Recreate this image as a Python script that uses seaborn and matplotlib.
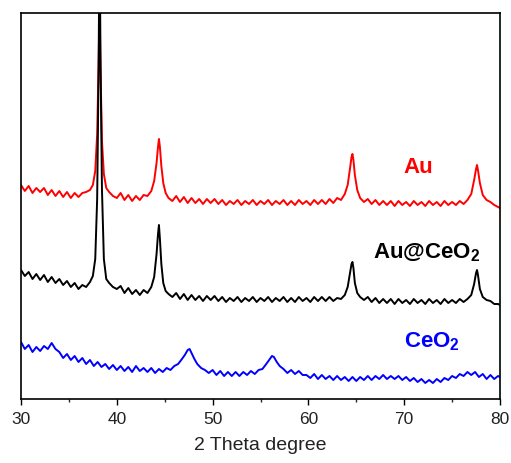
import matplotlib
matplotlib.use("Agg")
import matplotlib.pyplot as plt
import seaborn as sns
import pandas as pd

sns.set_theme(style="white")
plt.rcParams['font.family'] = ['Liberation Sans', 'DejaVu Sans']
plt.rcParams['mathtext.fontset'] = 'custom'
plt.rcParams['mathtext.rm'] = 'Liberation Sans'
plt.rcParams['mathtext.bf'] = 'Liberation Sans:bold'

# ---- data (2 theta in degrees, intensity in arbitrary offset units) ----
au_two_theta = [30.0, 30.4, 30.8, 31.2, 31.6, 32.0, 32.4, 32.8, 33.2, 33.6, 34.0, 34.4, 34.8, 35.2, 35.6,
                36.0, 36.4, 36.8, 37.2, 37.5, 37.75, 37.95, 38.1, 38.2, 38.3, 38.45, 38.65, 38.9, 39.2, 39.6,
                40.0, 40.4, 40.8, 41.2, 41.6, 42.0, 42.4, 42.8, 43.2, 43.6, 43.9, 44.15, 44.3, 44.4, 44.5,
                44.65, 44.85, 45.1, 45.4, 45.8, 46.2, 46.6, 47.0, 47.4, 47.8, 48.2, 48.6, 49.0, 49.4, 49.8,
                50.2, 50.6, 51.0, 51.4, 51.8, 52.2, 52.6, 53.0, 53.4, 53.8, 54.2, 54.6, 55.0, 55.4, 55.8,
                56.2, 56.6, 57.0, 57.4, 57.8, 58.2, 58.6, 59.0, 59.4, 59.8, 60.2, 60.6, 61.0, 61.4, 61.8,
                62.2, 62.6, 63.0, 63.4, 63.8, 64.1, 64.35, 64.5, 64.6, 64.7, 64.85, 65.1, 65.4, 65.8, 66.2,
                66.6, 67.0, 67.4, 67.8, 68.2, 68.6, 69.0, 69.4, 69.8, 70.2, 70.6, 71.0, 71.4, 71.8, 72.2,
                72.6, 73.0, 73.4, 73.8, 74.2, 74.6, 75.0, 75.4, 75.8, 76.2, 76.6, 77.0, 77.3, 77.5, 77.6,
                77.7, 77.9, 78.2, 78.6, 79.0, 79.4, 79.8, 80.0]

au_intensity = [214, 208, 213, 206, 211, 207, 211, 204, 209, 203, 208, 202, 207, 201, 206,
                202, 206, 207, 209, 214, 228, 265, 335, 392, 330, 258, 225, 211, 207, 203,
                201, 206, 199, 204, 198, 203, 199, 204, 203, 208, 218, 236, 252, 260, 252,
                233, 216, 206, 201, 198, 203, 197, 202, 196, 201, 196, 200, 195, 200, 196,
                200, 195, 199, 194, 198, 195, 199, 194, 198, 195, 199, 194, 198, 195, 199,
                194, 198, 195, 199, 194, 198, 194, 199, 195, 198, 194, 199, 195, 199, 195,
                200, 196, 201, 199, 205, 214, 231, 242, 245, 239, 224, 209, 201, 197, 200,
                195, 199, 194, 198, 194, 198, 193, 198, 194, 197, 193, 198, 194, 197, 193,
                198, 194, 197, 193, 198, 194, 197, 194, 198, 195, 199, 205, 219, 230, 234,
                229, 216, 204, 199, 197, 194, 192, 191]

au_ceo2_intensity = [129, 123, 127, 120, 125, 119, 124, 117, 122, 116, 120, 114, 118, 112, 116,
                     110, 114, 112, 117, 123, 140, 200, 330, 470, 340, 210, 140, 120, 116, 112,
                     110, 113, 106, 111, 105, 109, 104, 109, 106, 112, 122, 145, 165, 174, 160,
                     135, 116, 108, 105, 102, 106, 100, 105, 99, 104, 99, 103, 98, 103, 99,
                     103, 98, 102, 97, 101, 98, 102, 97, 101, 98, 102, 97, 101, 98, 102,
                     97, 101, 98, 102, 97, 101, 97, 102, 98, 101, 97, 102, 98, 102, 98,
                     102, 98, 101, 100, 104, 112, 126, 135, 137, 131, 116, 106, 102, 99, 102,
                     97, 101, 96, 100, 96, 100, 95, 100, 96, 99, 95, 100, 96, 99, 95,
                     100, 96, 99, 95, 100, 96, 99, 96, 100, 97, 100, 104, 115, 126, 129,
                     124, 110, 102, 99, 98, 95, 95, 94]

ceo2_two_theta = [30.0, 30.4, 30.8, 31.2, 31.6, 32.0, 32.4, 32.8, 33.2, 33.6, 34.0, 34.4, 34.8, 35.2, 35.6,
                  36.0, 36.4, 36.8, 37.2, 37.6, 38.0, 38.4, 38.8, 39.2, 39.6, 40.0, 40.4, 40.8, 41.2, 41.6,
                  42.0, 42.4, 42.8, 43.2, 43.6, 44.0, 44.4, 44.8, 45.2, 45.6, 46.0, 46.4, 46.8, 47.1, 47.4,
                  47.6, 47.8, 48.1, 48.4, 48.8, 49.2, 49.6, 50.0, 50.4, 50.8, 51.2, 51.6, 52.0, 52.4, 52.8,
                  53.2, 53.6, 54.0, 54.4, 54.8, 55.2, 55.6, 55.9, 56.2, 56.4, 56.7, 57.0, 57.4, 57.8, 58.2,
                  58.6, 59.0, 59.4, 59.8, 60.2, 60.6, 61.0, 61.4, 61.8, 62.2, 62.6, 63.0, 63.4, 63.8, 64.2,
                  64.6, 65.0, 65.4, 65.8, 66.2, 66.6, 67.0, 67.4, 67.8, 68.2, 68.6, 69.0, 69.4, 69.8, 70.2,
                  70.6, 71.0, 71.4, 71.8, 72.2, 72.6, 73.0, 73.4, 73.8, 74.2, 74.6, 75.0, 75.4, 75.8, 76.2,
                  76.6, 77.0, 77.4, 77.8, 78.2, 78.6, 79.0, 79.4, 79.8, 80.0]

ceo2_intensity = [57, 50, 54, 47, 52, 48, 53, 50, 56, 50, 47, 41, 45, 39, 43,
                  37, 41, 35, 39, 33, 37, 32, 35, 30, 34, 29, 33, 28, 32, 27,
                  33, 28, 31, 27, 31, 26, 30, 27, 31, 29, 33, 35, 40, 44, 49,
                  50, 46, 40, 35, 31, 29, 26, 29, 24, 28, 23, 27, 23, 27, 23,
                  27, 24, 28, 25, 29, 30, 35, 39, 43, 42, 37, 33, 30, 26, 29,
                  25, 28, 24, 24, 21, 25, 20, 24, 20, 23, 19, 23, 19, 22, 18,
                  22, 18, 22, 19, 23, 19, 23, 20, 24, 20, 23, 20, 23, 19, 22,
                  18, 21, 17, 20, 16, 19, 16, 20, 17, 21, 19, 23, 21, 25, 23,
                  27, 24, 27, 22, 25, 20, 24, 20, 23, 22]

sample_labels = ["Au", r"Au@CeO$\mathbf{_2}$", r"CeO$\mathbf{_2}$"]
x_ticks = [30, 40, 50, 60, 70, 80]

au_df = pd.DataFrame({"two_theta": au_two_theta, "intensity": au_intensity})
auceo2_df = pd.DataFrame({"two_theta": au_two_theta, "intensity": au_ceo2_intensity})
ceo2_df = pd.DataFrame({"two_theta": ceo2_two_theta, "intensity": ceo2_intensity})

fig = plt.figure(figsize=(5.11, 4.64), dpi=100)
ax = fig.add_axes([21 / 511, 64 / 464, 479 / 511, 386 / 464])

sns.lineplot(data=au_df, x="two_theta", y="intensity", color="#ff0000", lw=1.4, sort=False, ax=ax)
sns.lineplot(data=auceo2_df, x="two_theta", y="intensity", color="#000000", lw=1.4, sort=False, ax=ax)
sns.lineplot(data=ceo2_df, x="two_theta", y="intensity", color="#0000ff", lw=1.4, sort=False, ax=ax)

ax.set_xlim(30, 80)
ax.set_ylim(0, 386)
ax.set_yticks([])
ax.set_ylabel("")
ax.set_xticks(x_ticks)
ax.set_xticks([35, 45, 55, 65, 75], minor=True)
ax.tick_params(axis="x", which="major", direction="out", length=4.5, width=1.0,
               labelsize=12.5, pad=4, colors="black", bottom=True)
ax.tick_params(axis="x", which="minor", direction="out", length=2.5, width=1.0, bottom=True)
for lab in ax.get_xticklabels():
    lab.set_color("#222222")
for sp in ax.spines.values():
    sp.set_visible(True)
    sp.set_color("black")
    sp.set_linewidth(1.2)
ax.set_xlabel("2 Theta degree", fontsize=14, labelpad=7, color="#222222")

ax.text(71.5, 227, sample_labels[0], color="#ff0000", fontsize=16, fontweight="bold",
        ha="center", va="baseline")
ax.text(72.3, 142, sample_labels[1], color="black", fontsize=16, fontweight="bold",
        ha="center", va="baseline")
ax.text(72.9, 53, sample_labels[2], color="#0000ff", fontsize=16, fontweight="bold",
        ha="center", va="baseline")

fig.savefig("out.png", dpi=100)
